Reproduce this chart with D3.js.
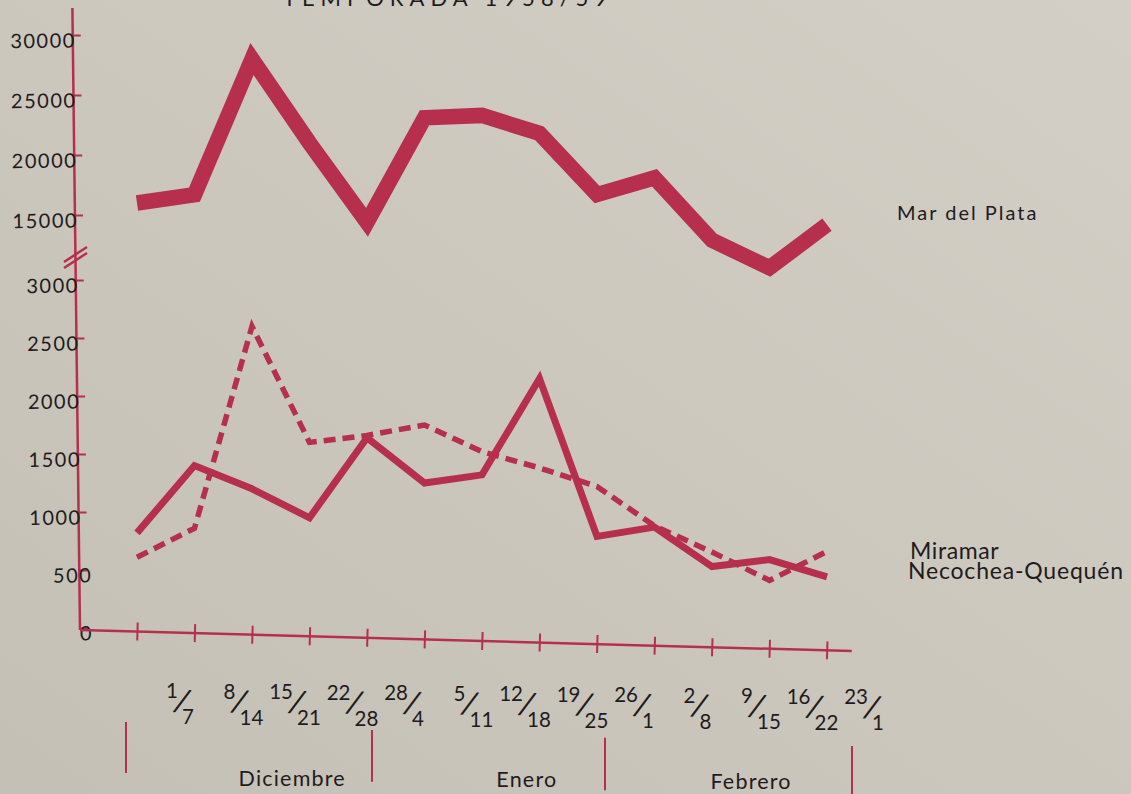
<!DOCTYPE html>
<html><head><meta charset="utf-8">
<script src="https://cdn.jsdelivr.net/npm/d3@7"></script>
<style>
html,body{margin:0;padding:0;background:#cbc6bc;}
svg{display:block;}
text{font-family:Lato,"Open Sans",sans-serif;fill:#1f1b1c;}
</style>
</head><body>
<svg id="c" width="1131" height="794"></svg>
<script>
// ---- data ----
const weekStart = ["1","8","15","22","28","5","12","19","26","2","9","16","23"];
const weekEnd   = ["7","14","21","28","4","11","18","25","1","8","15","22","1"];
const months = ["Diciembre","Enero","Febrero"];
const marDelPlata = [16000,16700,28000,21000,14400,23100,23300,21800,16700,18100,12900,10600,14200];
const miramar     = [610,860,2600,1600,1660,1750,1520,1380,1220,880,655,410,660];
const necochea    = [820,1400,1200,950,1640,1250,1320,2150,790,870,530,590,440];
const upperTicks = [15000,20000,25000,30000];
const lowerTicks = [0,500,1000,1500,2000,2500,3000];
const seriesNames = ["Mar del Plata","Miramar","Necochea-Quequén"];
const title = "TEMPORADA 1958/59";

// ---- setup ----
const W = 1131, H = 794;
const red = "#b62f4d";
const svg = d3.select("#c");
const defs = svg.append("defs");
const grad = defs.append("linearGradient").attr("id","bg")
  .attr("x1","1").attr("y1","0").attr("x2","0").attr("y2","1");
grad.append("stop").attr("offset","0").attr("stop-color","#d3cfc6");
grad.append("stop").attr("offset","1").attr("stop-color","#c5c0b6");
svg.append("rect").attr("width",W).attr("height",H).attr("fill","url(#bg)");

const x = d3.scaleLinear().domain([0,12]).range([137,827]);
const yUp = d3.scaleLinear().domain([15000,30000]).range([215,35]);
const yLo = d3.scaleLinear().domain([0,3000]).range([628,280]);

// title (cut off at top)
svg.append("text").attr("x",448).attr("y",6).attr("text-anchor","middle")
  .attr("font-size",22).attr("letter-spacing",6).text(title);

// ---- y axis ----
const ya = svg.append("g").attr("transform","rotate(-0.7 80 630)");
ya.append("line").attr("x1",80).attr("x2",80).attr("y1",8).attr("y2",630)
  .attr("stroke",red).attr("stroke-width",2.5);
function styleY(g){
  g.select(".domain").remove();
  g.selectAll(".tick line").attr("stroke",red).attr("stroke-width",2);
  g.selectAll(".tick text").attr("text-anchor","end")
    .attr("x", d => d < 1000 ? 13 : 3).attr("dy","0.6em")
    .attr("font-size",20).attr("letter-spacing",1.5)
    .style("font-family","Lato").style("fill","#1f1b1c");
}
ya.append("g").attr("transform","translate(80,0)")
  .call(d3.axisRight(yUp).tickValues(upperTicks).tickSize(8).tickFormat(d3.format("d")))
  .call(styleY);
ya.append("g").attr("transform","translate(80,0)")
  .call(d3.axisRight(yLo).tickValues(lowerTicks).tickSize(8).tickFormat(d3.format("d")))
  .call(styleY);
// axis break marks
[0,6].forEach(o=>{
  svg.append("line").attr("x1",64).attr("y1",262+o).attr("x2",87).attr("y2",247+o)
    .attr("stroke",red).attr("stroke-width",2.5);
});

// ---- x axis ----
const xa = svg.append("g").attr("transform","rotate(1.56 80 630) translate(0 630)");
xa.call(d3.axisBottom(x).tickValues(d3.range(weekStart.length)).tickSize(9).tickFormat(""));
xa.select(".domain").remove();
xa.selectAll(".tick line").attr("y1",-9).attr("y2",9).attr("stroke",red).attr("stroke-width",2);
xa.append("line").attr("x1",80).attr("x2",852).attr("stroke",red).attr("stroke-width",2.5);

// week labels (fraction style)
const lab = svg.append("g").attr("font-size",20.5);
lab.selectAll("text").data(weekStart).join("text").each(function(s,i){
  const cx = x(i) + 44, t = (cx - 160) * 0.009;
  const el = d3.select(this);
  el.append("tspan").attr("x",cx-3).attr("y",698+t).attr("text-anchor","end").text(s);
  el.append("tspan").attr("x",cx-9).attr("y",710+t).attr("font-size",33).attr("rotate",15).text("/");
  el.append("tspan").attr("x",cx+1).attr("y",724+t).attr("text-anchor","start").text(weekEnd[i]);
});

// month separators and labels
const edges = [x(0)-11, x(4)+5, x(8)+8, x(12)+25];
svg.selectAll("line.sep").data(edges).join("line").attr("class","sep")
  .attr("x1",d=>d).attr("x2",d=>d)
  .attr("y1",d=>722+(d-126)*0.033).attr("y2",d=>773+(d-126)*0.036)
  .attr("stroke",red).attr("stroke-width",2);
const monthPos = [x(2.7), x(6.78), x(10.68)];
svg.selectAll("text.month").data(months).join("text").attr("class","month")
  .attr("x",(d,i)=>monthPos[i]).attr("y",(d,i)=>786+(monthPos[i]-292)*0.006)
  .attr("text-anchor","middle").attr("font-size",21.5).attr("letter-spacing",1.2)
  .text(d=>d);

// ---- lines ----
const lineUp = d3.line().x((d,i)=>x(i)).y(d=>yUp(d));
const lineLo = d3.line().x((d,i)=>x(i)).y(d=>yLo(d));
svg.append("path").datum(marDelPlata).attr("d",lineUp)
  .attr("fill","none").attr("stroke",red).attr("stroke-width",15.5)
  .attr("stroke-linejoin","miter").attr("stroke-miterlimit",6);
svg.append("path").datum(miramar).attr("d",lineLo)
  .attr("fill","none").attr("stroke",red).attr("stroke-width",5.5)
  .attr("stroke-dasharray","12,7").attr("stroke-linejoin","miter");
svg.append("path").datum(necochea).attr("d",lineLo)
  .attr("fill","none").attr("stroke",red).attr("stroke-width",7)
  .attr("stroke-linejoin","miter").attr("stroke-miterlimit",6);

// ---- series labels ----
svg.append("text").attr("x",897).attr("y",220).attr("font-size",20).attr("letter-spacing",2).text(seriesNames[0]);
svg.append("text").attr("x",910).attr("y",559).attr("font-size",23).attr("letter-spacing",0.6).text(seriesNames[1]);
svg.append("text").attr("x",908).attr("y",579).attr("font-size",23).attr("letter-spacing",0.8).text(seriesNames[2]);
</script>
</body></html>
